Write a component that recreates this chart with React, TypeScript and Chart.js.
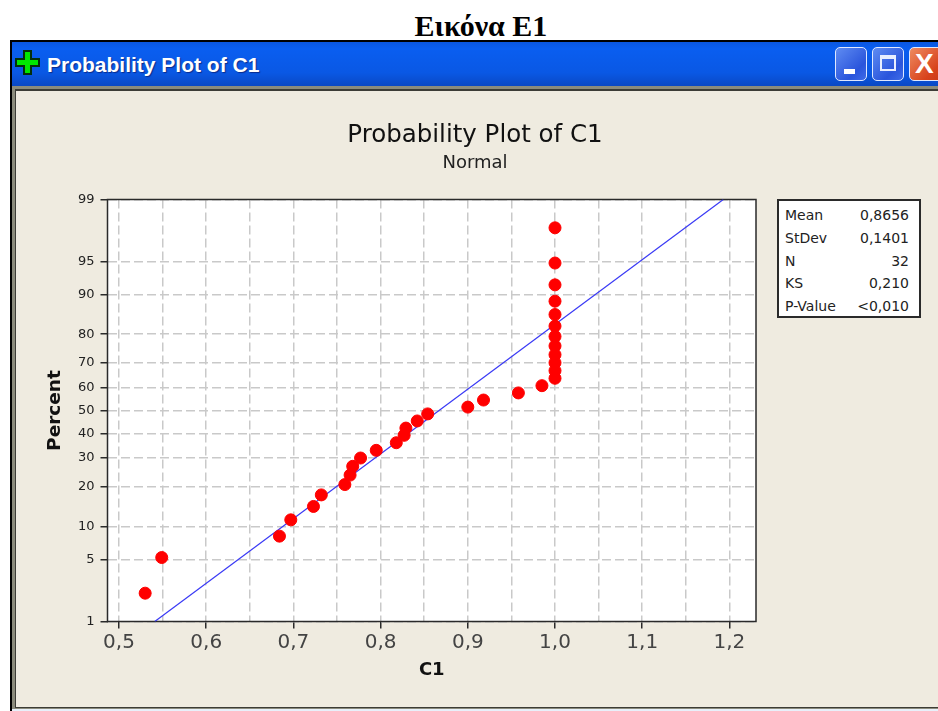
import React, { useEffect, useRef } from "react";
import { Chart, registerables, LinearScale } from "chart.js";

const pointC1 = [0.53, 0.549, 0.684, 0.697, 0.723, 0.732, 0.759, 0.765, 0.768, 0.777, 0.795, 0.818, 0.827, 0.829, 0.842, 0.854, 0.9, 0.918, 0.958, 0.985, 1, 1, 1, 1, 1, 1, 1, 1, 1, 1, 1, 1];
const pointPercent = [2.2, 5.25, 8.3, 11.4, 14.5, 17.6, 20.7, 23.8, 26.9, 30, 33, 36.1, 39.2, 42.3, 45.4, 48.5, 51.5, 54.6, 57.7, 60.8, 63.9, 67, 70.1, 73.1, 76.2, 79.3, 82.4, 85.5, 88.6, 91.7, 94.8, 97.8];
const fitC1 = [0.541, 1.193];
const fitPercent = [1, 99];
const xGridValues = [0.5, 0.55, 0.6, 0.65, 0.7, 0.75, 0.8, 0.85, 0.9, 0.95, 1, 1.05, 1.1, 1.15, 1.2];
const yTickValues = [1, 5, 10, 20, 30, 40, 50, 60, 70, 80, 90, 95, 99];
const statNames = ["Mean", "StDev", "N", "KS", "P-Value"];
const statValues = ["0,8656", "0,1401", "32", "0,210", "<0,010"];

function probit(percent: number) {
  const p = percent / 100;
  const q = p < 0.5 ? p : 1 - p;
  const t = Math.sqrt(-2 * Math.log(q));
  const z = t - (2.515517 + 0.802853 * t + 0.010328 * t * t) / (1 + 1.432788 * t + 0.189269 * t * t + 0.001308 * t * t * t);
  return p < 0.5 ? -z : z;
}

class ProbabilityScale extends (LinearScale as any) {
  static id = "probability";
  static defaults = (LinearScale as any).defaults;
  getPixelForValue(value: number) {
    const lo = probit(this.options.min);
    const hi = probit(this.options.max);
    return (this as any).getPixelForDecimal((probit(value) - lo) / (hi - lo));
  }
}

Chart.register(...registerables, ProbabilityScale as any);

const UI = "'DejaVu Sans', sans-serif";
const isTenth = (v: number) => Math.abs(v * 10 - Math.round(v * 10)) < 1e-6;

function WinButton({ left, width, bg, children }: any) {
  return (
    <div style={{ position: "absolute", left, top: 47, width, height: 34, borderRadius: 5, border: "1.5px solid #dfe8ff", boxSizing: "border-box", background: bg }}>
      {children}
    </div>
  );
}

export default function App() {
  const ref = useRef<HTMLCanvasElement>(null);
  useEffect(() => {
    document.body.style.margin = "0";
    const frame = {
      id: "frame",
      beforeDraw(c: any) {
        const a = c.chartArea;
        c.ctx.save();
        c.ctx.fillStyle = "#ffffff";
        c.ctx.fillRect(a.left, a.top, a.right - a.left, a.bottom - a.top);
        c.ctx.restore();
      },
      beforeDatasetsDraw(c: any) {
        const a = c.chartArea;
        c.ctx.save();
        c.ctx.strokeStyle = "#2a2a2a";
        c.ctx.lineWidth = 1.5;
        c.ctx.strokeRect(a.left, a.top, a.right - a.left, a.bottom - a.top);
        c.ctx.restore();
      },
    };
    const chart = new Chart(ref.current as HTMLCanvasElement, {
      type: "scatter",
      data: {
        datasets: [
          {
            data: pointC1.map((x, i) => ({ x, y: pointPercent[i] })),
            backgroundColor: "#ff0000",
            borderColor: "#ff0000",
            pointRadius: 6,
            showLine: false,
          },
          {
            data: fitC1.map((x, i) => ({ x, y: fitPercent[i] })),
            borderColor: "#3a3af5",
            borderWidth: 1.2,
            pointRadius: 0,
            showLine: true,
          },
        ],
      },
      plugins: [frame],
      options: {
        animation: false,
        responsive: false,
        layout: { padding: 0 },
        plugins: {
          legend: { display: false },
          tooltip: { enabled: false },
          title: {
            display: true,
            text: "Probability Plot of C1",
            color: "#111",
            font: { family: UI, size: 24.5, weight: "normal", lineHeight: 1.2 },
            padding: { top: 30.3, bottom: 0 },
          },
          subtitle: {
            display: true,
            text: "Normal",
            color: "#222",
            font: { family: UI, size: 18, weight: "normal", lineHeight: 1.2 },
            padding: { top: 1.5, bottom: 25.7 },
          },
        },
        scales: {
          x: {
            type: "linear",
            min: 0.4868,
            max: 1.2305,
            afterBuildTicks(s: any) {
              s.ticks = xGridValues.map((value) => ({ value }));
            },
            afterFit(s: any) {
              s.height = 85.5;
            },
            grid: {
              color: "#c9c9c9",
              lineWidth: 1.5,
              tickColor: (c: any) => (c.tick && isTenth(c.tick.value) ? "#2a2a2a" : "rgba(0,0,0,0)"),
              tickLength: 7,
              tickWidth: 1.5,
              tickBorderDash: [],
            } as any,
            border: { display: false, dash: [9, 4] },
            ticks: {
              autoSkip: false,
              maxRotation: 0,
              color: "#444",
              padding: 2,
              font: { family: UI, size: 20 },
              callback: (v: any) => (isTenth(v) ? Number(v).toFixed(1).replace(".", ",") : ""),
            },
            title: {
              display: true,
              text: "C1",
              color: "#111",
              font: { family: UI, size: 18, weight: "bold", lineHeight: 1.2 },
              padding: { top: 0, bottom: 26 },
            },
          },
          y: {
            type: "probability",
            min: 1,
            max: 99,
            afterBuildTicks(s: any) {
              s.ticks = yTickValues.map((value) => ({ value }));
            },
            afterFit(s: any) {
              s.width = 95.5;
            },
            grid: {
              color: "#c9c9c9",
              lineWidth: 1.5,
              tickColor: "#2a2a2a",
              tickLength: 7,
              tickWidth: 1.5,
              tickBorderDash: [],
            } as any,
            border: { display: false, dash: [9, 4] },
            ticks: {
              autoSkip: false,
              color: "#222",
              padding: 6,
              font: { family: UI, size: 13 },
              callback: (v: any) => String(v),
            },
            title: {
              display: true,
              text: "Percent",
              color: "#111",
              font: { family: UI, size: 18.5, weight: "bold", lineHeight: 1.2 },
              padding: { top: 32, bottom: 0 },
            },
          },
          spacer: {
            type: "linear",
            position: "right",
            display: true,
            grid: { display: false },
            border: { display: false },
            ticks: { display: false },
            afterFit(s: any) {
              s.width = 182;
            },
          },
        } as any,
      },
    } as any);
    return () => chart.destroy();
  }, []);

  return (
    <div style={{ position: "relative", width: 938, height: 711, overflow: "hidden", background: "#fff" }}>
      <div style={{ position: "absolute", left: 0, width: 962, top: 10, textAlign: "center", font: "bold 30px/32px 'Liberation Serif', serif", color: "#000" }}>
        Εικόνα Ε1
      </div>
      <div style={{ position: "absolute", left: 10, top: 40, width: 928, height: 671, background: "#000" }} />
      <div style={{ position: "absolute", left: 12, top: 42, width: 926, height: 44, background: "linear-gradient(#0a57e0 0%, #0a5ef0 15%, #0a58e4 70%, #0a48c4 100%)" }} />
      <div style={{ position: "absolute", left: 12, top: 86, width: 926, height: 623, background: "#8b8b7c" }} />
      <div style={{ position: "absolute", left: 15, top: 89, width: 923, height: 619, background: "#3c3c36" }} />
      <div style={{ position: "absolute", left: 12, top: 709, width: 926, height: 2, background: "#e8f0fa" }} />
      <div style={{ position: "absolute", left: 16, top: 91, width: 922, height: 616, background: "#efebe0" }} />
      <svg style={{ position: "absolute", left: 15, top: 50 }} width="25" height="25" viewBox="0 0 25 25">
        <path d="M9 1h7v8h8v7h-8v8H9v-8H1V9h8z" fill="#00e800" stroke="#04300a" strokeWidth="2" />
      </svg>
      <div style={{ position: "absolute", left: 47, top: 51, font: "bold 21px/28px 'Liberation Sans', sans-serif", color: "#fff", textShadow: "1px 1px 1px #0a2c8c", whiteSpace: "nowrap" }}>
        Probability Plot of C1
      </div>
      <WinButton left={835} width={32} bg="linear-gradient(135deg,#5f8cf2,#2a55dc 70%,#3f6be8)">
        <div style={{ position: "absolute", left: 8, top: 21, width: 11, height: 5, background: "#fff" }} />
      </WinButton>
      <WinButton left={872} width={32} bg="linear-gradient(135deg,#5f8cf2,#2a55dc 70%,#3f6be8)">
        <div style={{ position: "absolute", left: 7, top: 7, width: 16, height: 16, border: "2px solid #e8eeff", borderTopWidth: 4, boxSizing: "border-box" }} />
      </WinButton>
      <WinButton left={909} width={36} bg="linear-gradient(135deg,#ee8a60,#d8431c 70%,#c83a18)">
        <div style={{ position: "absolute", left: 5, top: 1, font: "bold 28px/30px 'Liberation Sans', sans-serif", color: "#fff" }}>X</div>
      </WinButton>
      <canvas ref={ref} width={926} height={616} style={{ position: "absolute", left: 12, top: 91, width: 926, height: 616 }} />
      <div style={{ position: "absolute", left: 777, top: 199, width: 144, height: 119, boxSizing: "border-box", border: "2px solid #2a2a2a", background: "#fff", padding: "3px 10px 0 6px", font: `14px/22.8px ${UI}`, color: "#222" }}>
        {statNames.map((name, i) => (
          <div key={name} style={{ display: "flex", justifyContent: "space-between" }}>
            <span>{name}</span>
            <span>{statValues[i]}</span>
          </div>
        ))}
      </div>
    </div>
  );
}
